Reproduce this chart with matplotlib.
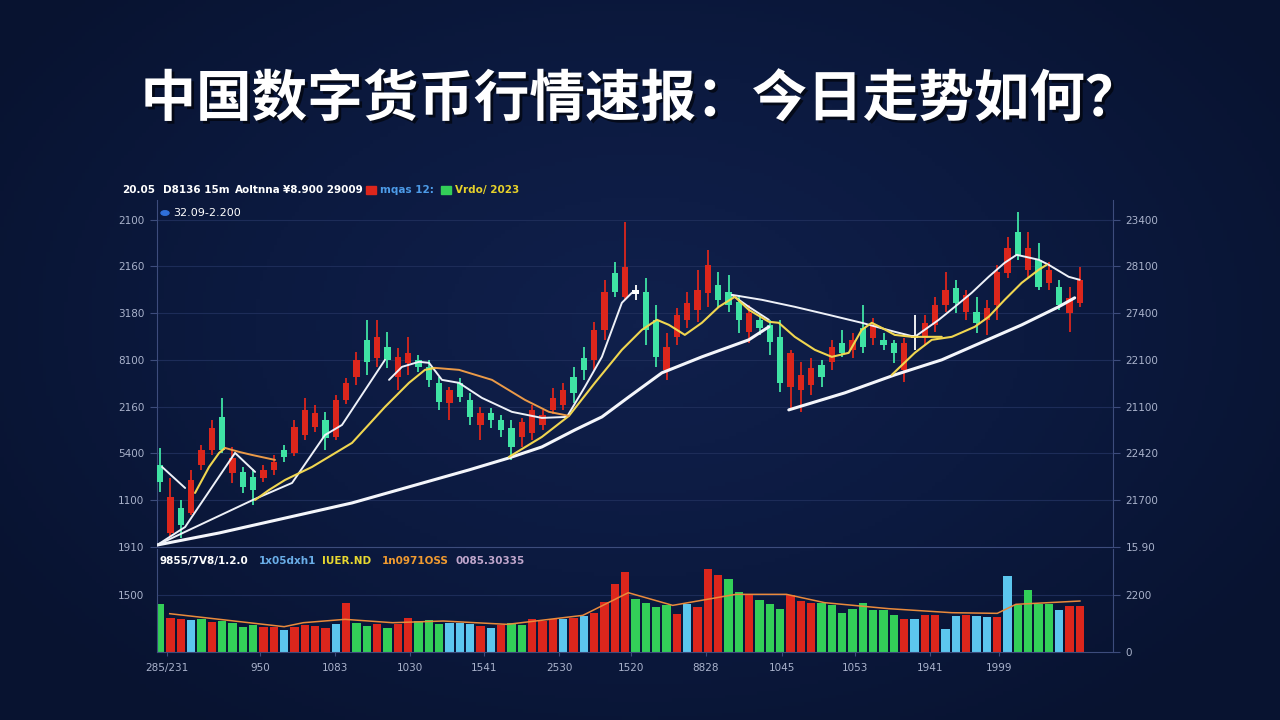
import numpy as np
import matplotlib
matplotlib.use("Agg")
import matplotlib.pyplot as plt
import matplotlib.patheffects as pe
from matplotlib.patches import Rectangle, Circle
from matplotlib.colors import LinearSegmentedColormap

# ---------------- data ----------------
title = "中国数字货币行情速报：今日走势如何？"

# candles (price units, index = candle number)
opens = [87.7, 15.0, 41.7, 36.4, 87.7, 103.8, 139.1, 79.2, 80.3, 74.9,
         73.8, 82.4, 103.8, 100.6, 119.8, 128.4, 135.9, 117.7, 157.3, 181.9,
         221.5, 202.2, 214.0, 181.9, 196.9, 200.1, 192.6, 175.5, 154.1, 175.5,
         157.3, 130.5, 143.4, 135.9, 127.3, 117.7, 122.0, 130.5, 146.6, 151.9,
         181.9, 202.2, 200.1, 232.2, 293.2, 267.5, 275.0, 272.9, 242.9, 189.4,
         224.7, 242.9, 253.6, 271.8, 280.3, 272.9, 262.2, 230.1, 242.9, 237.5,
         224.7, 171.2, 168.0, 173.3, 194.7, 198.0, 218.3, 210.8, 234.3, 223.6,
         221.5, 218.3, 189.4, 223.6, 223.6, 237.5, 258.9, 277.1, 251.5, 251.5,
         242.9, 258.9, 293.2, 337.1, 296.4, 307.1, 282.5, 278.2, 250.4, 261.1]
highs = [105.9, 73.8, 50.3, 82.4, 109.1, 135.9, 159.4, 107.0, 85.6, 83.5,
         87.7, 98.4, 109.1, 135.9, 159.4, 151.9, 144.5, 162.6, 180.8, 208.7,
         242.9, 242.9, 230.1, 212.9, 224.7, 205.4, 200.1, 181.9, 171.2, 180.8,
         164.8, 149.8, 148.7, 141.2, 135.9, 138.0, 151.9, 146.6, 170.1, 175.5,
         192.6, 214.0, 240.8, 285.7, 305.0, 347.8, 280.3, 287.8, 258.9, 229.0,
         255.7, 272.9, 296.4, 317.8, 294.3, 291.0, 269.6, 258.9, 248.2, 242.9,
         242.9, 210.8, 198.0, 202.2, 200.1, 221.5, 232.2, 229.0, 258.9, 245.0,
         229.0, 221.5, 223.6, 248.2, 248.2, 267.5, 294.3, 285.7, 275.0, 267.5,
         264.3, 301.7, 331.7, 358.5, 337.1, 325.3, 305.0, 285.7, 278.2, 299.6]
lows = [58.9, 10.7, 9.6, 34.2, 82.4, 98.4, 100.6, 68.5, 57.8, 44.9,
        69.6, 77.0, 91.0, 97.4, 114.5, 123.1, 103.8, 114.5, 153.0, 173.3,
        184.0, 192.6, 191.5, 168.0, 184.0, 187.3, 171.2, 146.6, 135.9, 155.2,
        130.5, 114.5, 127.3, 117.7, 93.1, 107.0, 114.5, 125.2, 142.3, 146.6,
        154.1, 178.7, 189.4, 221.5, 267.5, 264.3, 264.3, 216.1, 192.6, 178.7,
        216.1, 234.3, 240.8, 256.8, 256.8, 251.5, 229.0, 218.3, 226.8, 205.4,
        165.9, 146.6, 144.5, 162.6, 171.2, 189.4, 203.3, 202.2, 207.6, 216.1,
        210.8, 196.9, 176.6, 210.8, 216.1, 230.1, 251.5, 250.4, 242.9, 229.0,
        226.8, 242.9, 287.8, 307.1, 288.9, 275.0, 275.0, 253.6, 230.1, 256.8]
closes = [69.6, 53.5, 23.5, 71.7, 103.8, 127.3, 103.8, 95.2, 64.2, 61.0,
          82.4, 91.0, 96.3, 128.4, 146.6, 143.4, 116.6, 157.3, 175.5, 200.1,
          198.0, 224.7, 200.1, 203.3, 207.6, 192.6, 178.7, 155.2, 168.0, 160.5,
          139.1, 143.4, 135.9, 125.2, 107.0, 133.8, 146.6, 141.2, 159.4, 168.0,
          164.8, 189.4, 232.2, 272.9, 272.9, 299.6, 270.7, 232.2, 203.3, 214.0,
          248.2, 261.1, 275.0, 301.7, 264.3, 258.9, 242.9, 250.4, 234.3, 219.4,
          175.5, 207.6, 184.0, 191.5, 181.9, 214.0, 207.6, 221.5, 214.0, 237.5,
          216.1, 207.6, 218.3, 226.8, 239.7, 258.9, 275.0, 261.1, 269.6, 239.7,
          255.7, 294.3, 319.9, 312.4, 319.9, 278.2, 296.4, 258.9, 266.4, 285.7]
doji = [46, 73]

# moving-average style lines, (candle index, price)
ma_long_a = [(-0.29, 2.1), (5.71, 15.0), (18.57, 47.1), (29.88, 82.4), (33.75, 95.2),
             (36.94, 107.0), (40.14, 125.2), (42.75, 139.1), (45.36, 160.5),
             (48.55, 186.2), (52.42, 203.3), (56.96, 221.5), (58.90, 235.4)]
ma_long_b = [(60.83, 146.6), (66.25, 164.8), (71.08, 184.0), (75.63, 200.1),
             (83.37, 237.5), (86.94, 256.8), (88.49, 266.4)]
ma_white = [
    [(0.19, 85.6), (2.42, 63.1)],
    [(-0.29, 2.1), (2.42, 21.4), (7.25, 100.6), (9.19, 80.3)],
    [(-0.29, 2.1), (9.19, 51.4), (12.77, 68.5), (15.96, 119.8), (17.60, 130.5), (21.76, 200.1)],
    [(22.15, 178.7), (23.40, 192.6), (25.05, 198.0), (26.02, 196.9), (27.27, 178.7),
     (28.92, 175.5), (31.14, 159.4), (34.04, 144.5), (36.94, 138.0), (39.36, 139.1),
     (41.10, 171.2), (42.75, 203.3), (44.68, 261.1), (45.65, 271.8)],
    [(55.32, 269.6), (58.22, 264.3), (61.41, 256.8), (64.70, 248.2), (67.89, 239.7),
     (71.08, 230.1), (73.02, 224.7), (75.34, 242.9), (76.89, 256.8), (78.53, 271.8),
     (80.17, 288.9), (81.72, 303.9), (82.88, 312.4), (85.01, 307.1), (85.98, 301.7),
     (87.91, 288.9), (88.97, 285.7)],
    [(55.32, 269.6), (56.96, 256.8), (58.90, 242.9)],
]
ma_yellow = [
    [(3.38, 57.8), (4.74, 85.6), (5.71, 100.6), (6.29, 105.9)],
    [(9.19, 50.3), (10.54, 61.0), (12.09, 71.7), (14.70, 85.6), (18.57, 111.3),
     (21.76, 149.8), (24.08, 175.5), (25.63, 189.4), (26.60, 191.5)],
    [(33.75, 96.3), (36.94, 117.7), (39.56, 140.2), (42.07, 175.5), (44.68, 210.8),
     (46.62, 232.2), (48.07, 242.9), (49.23, 237.5), (50.77, 226.8), (52.42, 239.7),
     (54.06, 256.8), (55.61, 267.5), (56.96, 253.6), (58.90, 240.8), (59.86, 239.7),
     (61.41, 224.7), (63.35, 210.8), (64.99, 203.3), (66.63, 207.6), (67.89, 232.2),
     (68.86, 239.7), (69.83, 234.3), (71.08, 226.8), (72.73, 224.7), (75.63, 224.7)],
    [(70.79, 184.0), (73.02, 207.6), (74.66, 221.5), (76.60, 224.7), (78.82, 235.4),
     (80.17, 246.1), (81.72, 264.3), (83.37, 282.5), (85.01, 296.4), (85.78, 301.7)],
]
ma_orange = [
    [(6.29, 105.9), (7.64, 101.7), (8.90, 98.4), (11.12, 93.1)],
    [(26.60, 191.5), (28.92, 189.4), (32.11, 178.7), (35.30, 157.3), (37.62, 144.5), (39.56, 140.2)],
]

# volume bars
volumes = [1254, 903, 877, 833, 859, 789, 815, 771, 666, 701,
           666, 666, 570, 666, 701, 684, 640, 727, 1298, 771,
           684, 727, 640, 727, 903, 815, 842, 727, 771, 771,
           727, 684, 640, 701, 754, 701, 877, 815, 877, 859,
           903, 947, 1034, 1315, 1780, 2104, 1402, 1298, 1193, 1227,
           991, 1254, 1193, 2174, 2016, 1911, 1578, 1490, 1368, 1271,
           1122, 1490, 1341, 1298, 1280, 1227, 1017, 1122, 1298, 1105,
           1105, 964, 859, 877, 964, 964, 596, 947, 964, 947,
           920, 929, 1999, 1227, 1631, 1254, 1254, 1105, 1210, 1210]
vol_colors = ("grrbgrgggg" "rrbrrrrbrg" "grgrrgggbb" "brbrggrrrb" "rbrrrrgggg"
              "rbrrrggrgg" "grrrgggggg" "ggrbrrbbrb" "brbggggbrr")
vol_ma = [(0.93, 1008), (12.0, 666), (13.85, 771), (17.9, 859), (22.5, 771), (27.4, 815),
          (33.6, 727), (40.9, 964), (45.3, 1560), (49.6, 1227), (52.0, 1341), (55.7, 1517),
          (60.6, 1517), (64.3, 1298), (70.5, 1140), (76.6, 1034), (81.0, 1017),
          (82.8, 1254), (89.0, 1341)]

price_ticks = [0, 50, 100, 150, 200, 250, 300, 350]
left_labels = ["1910", "1100", "5400", "2160", "8100", "3180", "2160", "2100"]
right_labels = ["15.90", "21700", "22420", "21100", "22100", "27400", "28100", "23400"]
x_ticks = [0.7, 9.7, 16.9, 24.2, 31.3, 38.6, 45.6, 52.8, 60.2, 67.2, 74.5, 81.2]
x_labels = ["285/231", "950", "1083", "1030", "1541", "2530", "1520", "8828",
            "1045", "1053", "1941", "1999"]

# ---------------- style ----------------
RED = "#dc261c"
MINT = "#3fe3a4"
VGREEN = "#33cf58"
VBLUE = "#5cc6ee"
TICKC = "#aab3cc"
SPINE = "#3d4c7c"
GRID = "#1d2c58"

plt.rcParams['font.family'] = ['DejaVu Sans']

fig = plt.figure(figsize=(12.8, 7.2), dpi=100)
fig.patch.set_facecolor("#0b1839")

# soft vignette background
bg = fig.add_axes([0, 0, 1, 1], zorder=-10)
yy, xx = np.mgrid[0:1:200j, 0:1:360j]
r = np.sqrt(((xx - 0.5) / 0.6) ** 2 + ((yy - 0.45) / 0.7) ** 2)
cmap = LinearSegmentedColormap.from_list("bg", ["#10204c", "#0c1a40", "#081330"])
bg.imshow(np.clip(r, 0, 1), cmap=cmap, aspect="auto", extent=[0, 1, 0, 1])
bg.axis("off")


def px(x, y):
    return x / 1280, 1 - y / 720


# ---------------- price panel ----------------
ax = fig.add_axes([157 / 1280, 1 - 547 / 720, (1113 - 157) / 1280, (547 - 200) / 720])
ax.set_facecolor("none")
idx = np.arange(len(opens))
o = np.array(opens)
c = np.array(closes)
cols = np.where(c >= o, RED, MINT).astype(object)
for d in doji:
    cols[d] = "white"
ax.vlines(idx, lows, highs, colors=list(cols), lw=1.3, zorder=2)
ax.bar(idx, np.maximum(np.abs(c - o), 1.8), bottom=np.minimum(o, c), width=0.62,
       color=list(cols), zorder=3)

def draw(seg, color, lw, z=4):
    t, v = zip(*seg)
    ax.plot(t, v, color=color, lw=lw, zorder=z, solid_capstyle="round",
            solid_joinstyle="round")

draw(ma_long_a, "#f4f6fb", 2.2)
draw(ma_long_b, "#f4f6fb", 2.2)
for seg in ma_white:
    draw(seg, "#eef1f8", 1.4)
for seg in ma_yellow:
    draw(seg, "#f0d650", 1.5)
for seg in ma_orange:
    draw(seg, "#eb9a48", 1.4)

ax.set_xlim(-0.3, 92.2)
ax.set_ylim(0, 371)
ax.set_yticks(price_ticks)
ax.set_yticklabels(left_labels)
ax.set_xticks([])
ax.tick_params(axis="y", colors=SPINE, labelcolor=TICKC, labelsize=7.5, length=5, pad=4)
ax.grid(axis="y", color=GRID, lw=0.8, zorder=0)
ax.spines["top"].set_visible(False)
for s in ["left", "right", "bottom"]:
    ax.spines[s].set_color(SPINE)
    ax.spines[s].set_linewidth(0.8)

axr = ax.twinx()
axr.set_ylim(ax.get_ylim())
axr.set_yticks(price_ticks)
axr.set_yticklabels(right_labels)
axr.tick_params(axis="y", colors=SPINE, labelcolor=TICKC, labelsize=7.5, length=5, pad=4)
for s in axr.spines.values():
    s.set_visible(False)

# ---------------- volume panel ----------------
axv = fig.add_axes([157 / 1280, 1 - 652 / 720, (1113 - 157) / 1280, (652 - 549) / 720])
axv.set_facecolor("none")
cmapv = {"r": RED, "g": VGREEN, "b": VBLUE}
axv.bar(idx, volumes, width=0.82, color=[cmapv[k] for k in vol_colors], zorder=2)
tv, vv = zip(*vol_ma)
axv.plot(tv, vv, color="#e98a3c", lw=1.1, zorder=3)
axv.set_xlim(ax.get_xlim())
axv.set_ylim(0, 2710)
axv.set_yticks([1500])
axv.set_yticklabels(["1500"])
axv.set_xticks(x_ticks)
axv.set_xticklabels(x_labels)
axv.tick_params(axis="both", colors=SPINE, labelcolor=TICKC, labelsize=7.5, length=3, pad=5)
axv.tick_params(axis="y", length=0, pad=9)
axv.grid(axis="y", color=GRID, lw=0.8, zorder=0)
axv.spines["top"].set_visible(False)
for s in ["left", "right", "bottom"]:
    axv.spines[s].set_color(SPINE)
    axv.spines[s].set_linewidth(0.8)

axvr = axv.twinx()
axvr.set_ylim(axv.get_ylim())
axvr.set_yticks([0, 1500])
axvr.set_yticklabels(["0", "2200"])
axvr.tick_params(axis="y", colors=SPINE, labelcolor=TICKC, labelsize=7.5, length=5, pad=4)
for s in axvr.spines.values():
    s.set_visible(False)

# ---------------- texts ----------------
fig.text(*px(640, 100), title, ha="center", va="center", color="white",
         fontsize=40, fontweight="heavy", family=["Noto Sans CJK SC", "DejaVu Sans"],
         path_effects=[pe.withSimplePatchShadow(offset=(2, -2), shadow_rgbFace="black", alpha=0.6)])

hdr_y = 190
for x, s, col in [(122, "20.05", "white"), (163, "D8136 15m", "white"),
                  (235, "Aoltnna", "white"), (283, "¥8.900 29009", "white"),
                  (380, "mqas 12:", "#4d9be8"), (455, "Vrdo/ 2023", "#e6d12a")]:
    fig.text(*px(x, hdr_y), s, color=col, fontsize=7.5, fontweight="bold", va="center")
for x, col in [(366, RED), (441, VGREEN)]:
    fig.add_artist(Rectangle(px(x, hdr_y + 4), 10 / 1280, 8 / 720, color=col,
                             transform=fig.transFigure))

fig.add_artist(Circle(px(165, 213), 4 / 1280, color="#2f6fd8", transform=fig.transFigure))
fig.text(*px(173, 213), "32.09-2.200", color="white", fontsize=8, va="center")

for x, s, col in [(160, "9855/7V8/1.2.0", "white"), (259, "1x05dxh1", "#6aaee8"),
                  (322, "IUER.ND", "#e8d830"), (382, "1n0971OSS", "#f09a30"),
                  (455, "0085.30335", "#c0a6cc")]:
    fig.text(*px(x, 561), s, color=col, fontsize=7.5, fontweight="bold", va="center")

fig.savefig("out.png", dpi=100, facecolor=fig.get_facecolor())
